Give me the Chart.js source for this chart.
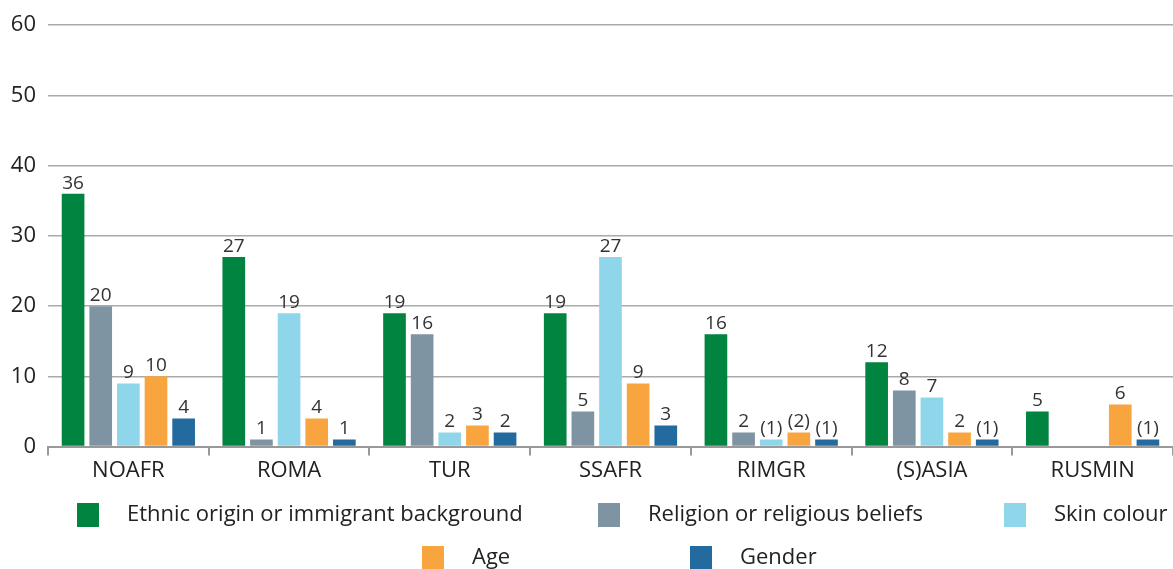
<!DOCTYPE html>
<html>
<head>
<meta charset="utf-8">
<script src="https://cdn.jsdelivr.net/npm/chart.js@4"></script>
<style>
html,body{margin:0;padding:0;background:#fff;}
#wrap{width:1173px;height:569px;position:relative;}
</style>
</head>
<body>
<div id="wrap"><canvas id="c" width="1173" height="569"></canvas></div>
<script>
const categories = ["NOAFR","ROMA","TUR","SSAFR","RIMGR","(S)ASIA","RUSMIN"];
const seriesNames = ["Ethnic origin or immigrant background","Religion or religious beliefs","Skin colour","Age","Gender"];
const ethnic   = [36,27,19,19,16,12,5];
const religion = [20,1,16,5,2,8,null];
const skin     = [9,19,2,27,1,7,null];
const age      = [10,4,3,9,2,2,6];
const gender   = [4,1,2,3,1,1,1];
const ethnicLabels   = ["36","27","19","19","16","12","5"];
const religionLabels = ["20","1","16","5","2","8",""];
const skinLabels     = ["9","19","2","27","(1)","7",""];
const ageLabels      = ["10","4","3","9","(2)","2","6"];
const genderLabels   = ["4","1","2","3","(1)","(1)","(1)"];
const yTicks = [0,10,20,30,40,50,60];

const colors = ["#00843F","#7F94A3","#8FD6EA","#F9A53F","#236A9E"];
const allData = [ethnic, religion, skin, age, gender];
const allLabels = [ethnicLabels, religionLabels, skinLabels, ageLabels, genderLabels];

const FONT = "'Open Sans', 'Noto Sans', sans-serif";

const valueLabels = {
  id: 'valueLabels',
  afterDatasetsDraw(chart) {
    const ctx = chart.ctx;
    ctx.save();
    ctx.font = "19px " + FONT;
    ctx.fillStyle = "#333";
    ctx.textAlign = "center";
    ctx.textBaseline = "bottom";
    chart.data.datasets.forEach((ds, i) => {
      const meta = chart.getDatasetMeta(i);
      meta.data.forEach((el, j) => {
        const t = ds.valueLabels[j];
        if (!t || ds.data[j] == null) return;
        ctx.fillText(t, el.x, el.y - 1);
      });
    });
    ctx.restore();
  }
};

// legend layout: row of each item and box left position
const legendRows = [0,0,0,1,1];
const legendBoxX = [77,598,1004,422,690];
const legendRowY = [515,558];

const customLegend = {
  id: 'customLegend',
  afterDraw(chart) {
    const ctx = chart.ctx;
    ctx.save();
    ctx.font = "22px " + FONT;
    ctx.textBaseline = "middle";
    ctx.textAlign = "left";
    chart.data.datasets.forEach((ds, i) => {
      const x = legendBoxX[i];
      const y = legendRowY[legendRows[i]];
      ctx.fillStyle = ds.backgroundColor;
      ctx.fillRect(x, y - 12, 22, 24);
      ctx.fillStyle = "#222";
      ctx.fillText(ds.label, x + 50, y);
    });
    ctx.restore();
  }
};

new Chart(document.getElementById('c'), {
  type: 'bar',
  data: {
    labels: categories,
    datasets: seriesNames.map((n, i) => ({
      label: n,
      data: allData[i],
      valueLabels: allLabels[i],
      backgroundColor: colors[i],
      borderWidth: 0,
      barPercentage: 0.82,
      categoryPercentage: 0.86
    }))
  },
  options: {
    responsive: false,
    animation: false,
    layout: { padding: { top: 10, right: 0, left: 0, bottom: 83 } },
    plugins: {
      tooltip: { enabled: false },
      legend: { display: false }
    },
    scales: {
      x: {
        grid: {
          display: true,
          drawOnChartArea: false,
          drawTicks: true,
          tickLength: 9,
          color: '#999',
          lineWidth: 2,
          offset: true
        },
        border: { display: true, color: '#999', width: 2 },
        ticks: { color: '#222', font: { size: 22, family: FONT }, padding: 2 }
      },
      y: {
        min: 0,
        max: 60,
        afterBuildTicks(axis) { axis.ticks = yTicks.map(v => ({ value: v })); },
        afterFit(axis) { axis.width = 48; },
        grid: { color: '#aaa', lineWidth: 1.5, drawTicks: false },
        border: { display: false },
        ticks: { color: '#222', font: { size: 22, family: FONT }, padding: 12 }
      }
    }
  },
  plugins: [valueLabels, customLegend]
});
</script>
</body>
</html>
